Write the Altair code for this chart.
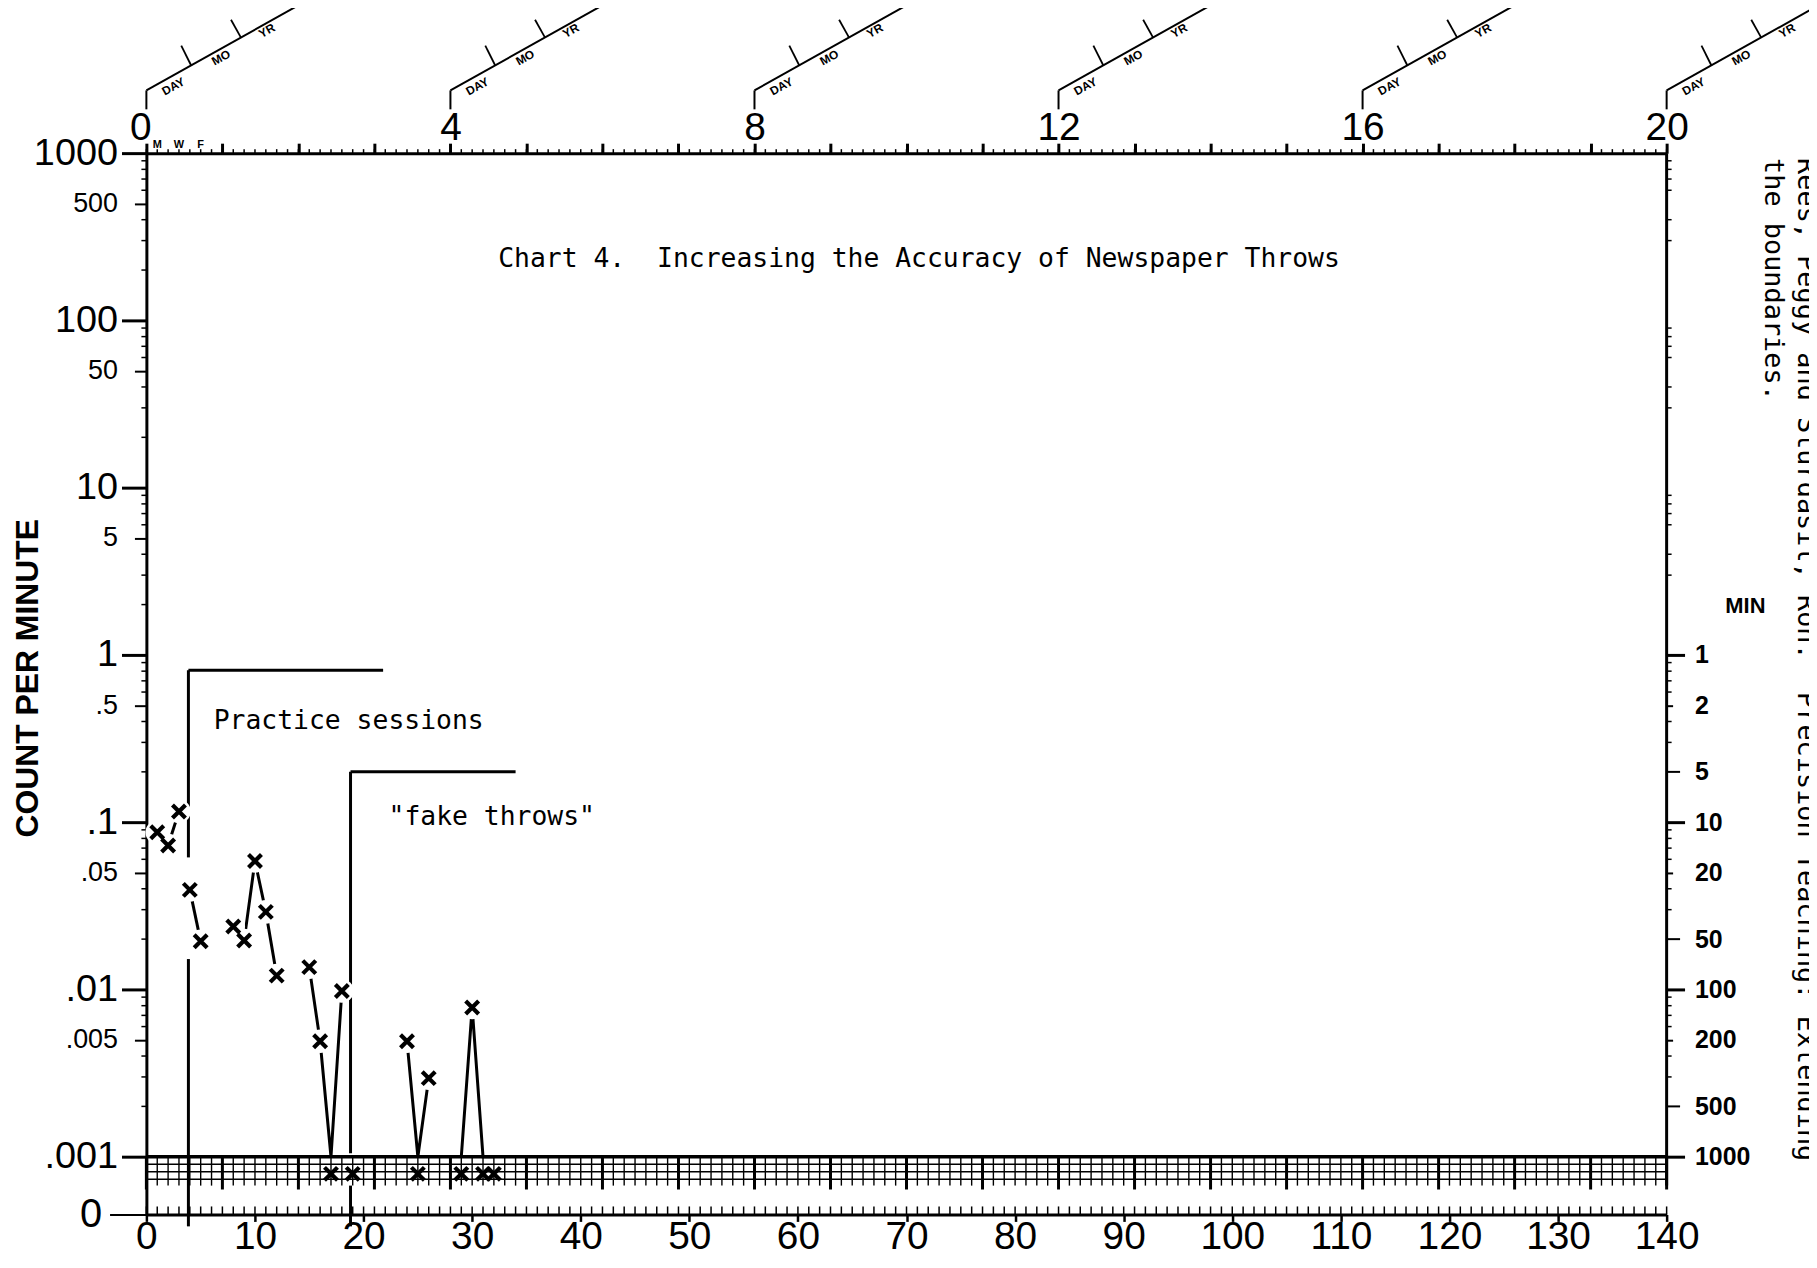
import json
import altair as alt
import pandas as pd

NB = "\u00a0"  # keeps the double spaces of the typewritten texts

# ---------------- data ----------------
days = [1, 2, 3, 4, 5, 8, 9, 10, 11, 12, 15, 16, 17, 18, 19, 24, 25, 26, 29, 30, 31, 32]
rates = [0.087, 0.0726, 0.116, 0.0394, 0.0194, 0.0238, 0.0196, 0.0586, 0.0291, 0.0121,
         0.0136, 0.0049, 0.0, 0.0098, 0.0, 0.0049, 0.0, 0.00295, 0.0, 0.0078, 0.0, 0.0]
runs = [1, 1, 1, 2, 2, 3, 3, 3, 3, 3, 4, 4, 4, 4, 5, 6, 6, 6, 7, 7, 7, 7]

FLOOR = 0.001          # the .001 line (record floor)
ZERO_MARK = 0.00079    # level at which zero counts are marked
ZERO_LINE = 0.000452   # the "0" line at the bottom
grid_rows = [0.000902, 0.000814, 0.000734]
GRID_BOTTOM = 0.000672
GRID_BOTTOM_WEEK = 0.000637

# phase change lines
phase_days = [3.87, 18.8]
phase_tops = [0.81, 0.2]
phase_ends = [21.8, 34.0]
phase_seg_day = [3.87, 3.87, 18.8, 18.8]
phase_seg_top = [0.81, 0.0152, 0.2, GRID_BOTTOM]
phase_seg_bot = [0.0616, ZERO_LINE, 0.00105, ZERO_LINE]

# annotations
note_text = ["Chart 4. " + NB + "Increasing the Accuracy of Newspaper Throws",
             "Practice sessions", '"fake throws"']
note_day = [32.4, 6.2, 22.3]
note_rate = [232.0, 0.404, 0.108]

citation = ["Rees, Peggy and Sturdasil, Ron. " + NB + "Precision Teaching: Extending",
            "the boundaries."]

# axes
left_values = [1000, 500, 100, 50, 10, 5, 1, 0.5, 0.1, 0.05, 0.01, 0.005, 0.001, ZERO_LINE]
left_labels = ["1000", "500", "100", "50", "10", "5", "1", ".5", ".1", ".05", ".01", ".005", ".001", "0"]
left_major = [1000, 100, 10, 1, 0.1, 0.01, 0.001]
left_minor = [m * 10.0 ** e for e in range(-3, 3) for m in (2, 3, 4, 6, 7, 8, 9)]

right_values = [1, 0.5, 0.2, 0.1, 0.05, 0.02, 0.01, 0.005, 0.002, 0.001]
right_labels = ["1", "2", "5", "10", "20", "50", "100", "200", "500", "1000"]
right_major = [1, 0.1, 0.01, 0.001]
right_mid = [0.2, 0.02, 0.002]
right_minor = [m * 10.0 ** e for e in range(-3, 3) for m in (3, 4, 6, 7, 8, 9)]

bottom_values = [0, 10, 20, 30, 40, 50, 60, 70, 80, 90, 100, 110, 120, 130, 140]
day_ticks = list(range(0, 141))
week_ticks = list(range(0, 141, 7))
week_days = [0, 28, 56, 84, 112, 140]
week_labels = ["0", "4", "8", "12", "16", "20"]
weekday_days = [1, 3, 5]
weekday_labels = ["M", "W", "F"]
date_line_labels = ["DAY", "MO", "YR"]

# ---------------- layout ----------------
W, H = 1527, 1066
PAD = {"left": 139, "top": 143, "right": 143, "bottom": 43}
MONO = "DejaVu Sans Mono"
SANS = "Liberation Sans"

xs = alt.Scale(domain=[0, 140], nice=False, zero=False)
ys = alt.Scale(type="log", domain=[ZERO_LINE, 1000], nice=False, zero=False)


def X(f, axis=None):
    return alt.X(f, type="quantitative", scale=xs, axis=axis)


def XD(v):
    return alt.XDatum(v, type="quantitative", scale=xs, axis=None)


def Y(f, axis=None):
    return alt.Y(f, type="quantitative", scale=ys, axis=axis)


def YD(v):
    return alt.YDatum(v, type="quantitative", scale=ys, axis=None)


J = json.dumps
left_major_test = f"indexof({J(left_major)}, datum.value) >= 0"
zero_test = f"datum.value < {FLOOR * 0.9}"
right_major_test = f"indexof({J(right_major)}, datum.value) >= 0"
right_mid_test = f"indexof({J(right_mid)}, datum.value) >= 0"

left_axis = alt.Axis(
    orient="left", values=left_values,
    labelExpr=f"{J(left_labels)}[indexof({J(left_values)}, datum.value)]",
    labelFontSize={"condition": [{"test": zero_test, "value": 40},
                                 {"test": left_major_test, "value": 38}], "value": 27},
    tickSize={"condition": [{"test": zero_test, "value": 37},
                            {"test": left_major_test, "value": 25}], "value": 12},
    labelPadding={"condition": [{"test": zero_test, "value": 8},
                                {"test": left_major_test, "value": 4}], "value": 17},
    tickWidth={"condition": [{"test": left_major_test, "value": 3}], "value": 2},
    domainWidth=3, labelOverlap=False, labelFlush=False, labelFont=SANS,
    title="COUNT PER MINUTE", titleFont=SANS, titleFontSize=32, titleFontWeight="bold",
    titleAngle=270, titleAlign="center", titleBaseline="middle", titleX=-119, titleY=527,
)

right_axis = alt.Axis(
    orient="right", values=right_values, domain=False,
    labelExpr=f"{J(right_labels)}[indexof({J(right_values)}, datum.value)]",
    tickSize={"condition": [{"test": right_major_test, "value": 18},
                            {"test": right_mid_test, "value": 13}], "value": 6},
    labelPadding={"condition": [{"test": right_major_test, "value": 10},
                                {"test": right_mid_test, "value": 15}], "value": 22},
    tickWidth={"condition": [{"test": right_major_test, "value": 3}], "value": 2},
    labelFontSize=25, labelFontWeight="bold", labelFont=SANS,
    labelOverlap=False, labelFlush=False, title=None,
)

top_axis = alt.Axis(
    orient="top", values=week_ticks,
    labelExpr=f"indexof({J(week_days)}, datum.value) >= 0 ? {J(week_labels)}[indexof({J(week_days)}, datum.value)] : ''",
    labelOffset={"condition": {"test": "datum.value == 0", "value": -6}, "value": 0},
    tickSize=10, tickWidth=3, domainWidth=3, labelFontSize=39, labelPadding=4,
    labelBaseline="alphabetic",
    labelFont=SANS, labelFlush=False, labelOverlap=False, title=None,
)

bottom_axis = alt.Axis(
    orient="bottom", values=bottom_values, format="d",
    tickSize=7, tickWidth=2.5, domainWidth=3, labelFontSize=39, labelPadding=27,
    labelBaseline="alphabetic",
    labelFont=SANS, labelFlush=False, labelOverlap=False, title=None,
)

L = []

# ---- floor grid ----
df_days = pd.DataFrame({"day": day_ticks})
df_weeks = pd.DataFrame({"day": week_ticks})
L.append(alt.Chart(df_days).mark_rule(color="black", strokeWidth=1.4).encode(
    x=X("day"), y=YD(FLOOR), y2=alt.Y2Datum(GRID_BOTTOM)))
L.append(alt.Chart(df_weeks).mark_rule(color="black", strokeWidth=3).encode(
    x=X("day"), y=YD(FLOOR), y2=alt.Y2Datum(GRID_BOTTOM_WEEK)))
L.append(alt.Chart(pd.DataFrame({"v": grid_rows})).mark_rule(color="black", strokeWidth=1.4).encode(
    x=XD(0), x2=alt.X2Datum(140), y=Y("v")))
# .001 line, carries the left axis
L.append(alt.Chart(pd.DataFrame({"v": [FLOOR]})).mark_rule(color="black", strokeWidth=3.5).encode(
    x=XD(0), x2=alt.X2Datum(140), y=Y("v", axis=left_axis)))

# ---- top axis (1000 line) with daily ticks ----
L.append(alt.Chart(df_days).mark_rule(color="black", strokeWidth=1.5, y2Offset=-4).encode(
    x=X("day", axis=top_axis), y=YD(1000), y2=alt.Y2Datum(1000)))
# ---- bottom axis (0 line) with daily ticks ----
L.append(alt.Chart(df_days).mark_rule(color="black", strokeWidth=1.5, y2Offset=-8).encode(
    x=X("day", axis=bottom_axis), y=YD(ZERO_LINE), y2=alt.Y2Datum(ZERO_LINE)))

# ---- right border, carries the right (MIN) axis ----
L.append(alt.Chart(pd.DataFrame({"top": [1000], "bot": [GRID_BOTTOM]})).mark_rule(
    color="black", strokeWidth=3).encode(x=XD(140), y=Y("top", axis=right_axis), y2="bot:Q"))

# minor log ticks
L.append(alt.Chart(pd.DataFrame({"v": left_minor})).mark_rule(color="black", strokeWidth=1.5, x2Offset=-5).encode(
    x=XD(0), x2=alt.X2Datum(0), y=Y("v")))
L.append(alt.Chart(pd.DataFrame({"v": right_minor})).mark_rule(color="black", strokeWidth=1.5, x2Offset=5).encode(
    x=XD(140), x2=alt.X2Datum(140), y=Y("v")))

# ---- phase change lines ----
L.append(alt.Chart(pd.DataFrame({"day": phase_seg_day, "top": phase_seg_top, "bot": phase_seg_bot}))
         .mark_rule(color="black", strokeWidth=3).encode(x=X("day"), y=Y("top"), y2="bot:Q"))
L.append(alt.Chart(pd.DataFrame({"day": phase_days, "end": phase_ends, "top": phase_tops}))
         .mark_rule(color="black", strokeWidth=3).encode(x=X("day"), x2="end:Q", y=Y("top")))
L.append(alt.Chart(pd.DataFrame({"day": phase_days})).mark_rule(color="black", strokeWidth=3, y2Offset=12)
         .encode(x=X("day"), y=YD(ZERO_LINE), y2=alt.Y2Datum(ZERO_LINE)))

# ---- data ----
df = pd.DataFrame({"day": days, "rate": rates, "run": runs})
df["line_y"] = df["rate"].where(df["rate"] > 0, FLOOR)
df["mark_y"] = df["rate"].where(df["rate"] > 0, ZERO_MARK)

L.append(alt.Chart(df).mark_line(color="black", strokeWidth=3).encode(
    x=X("day"), y=Y("line_y"), detail="run:N", order="day:Q"))
L.append(alt.Chart(df[df["rate"] > 0]).mark_point(
    shape="circle", filled=True, color="white", opacity=1, size=560).encode(
    x=X("day"), y=Y("rate")))
L.append(alt.Chart(df).mark_point(
    shape="M-1,-1L1,1M-1,1L1,-1", filled=False, color="black", opacity=1,
    strokeWidth=4.2, size=170).encode(x=X("day"), y=Y("mark_y")))

# ---- annotations ----
L.append(alt.Chart(pd.DataFrame({"day": note_day, "rate": note_rate, "text": note_text}))
         .mark_text(align="left", baseline="middle", font=MONO, fontSize=26.5, color="black")
         .encode(x=X("day"), y=Y("rate"), text="text:N"))

# ---- date-line decorations above every 4-week label ----
df_wk = pd.DataFrame({"day": week_days})
L.append(alt.Chart(df_wk).mark_rule(color="black", strokeWidth=2).encode(
    x=X("day"), y=alt.value(-44), y2=alt.value(-63)))
L.append(alt.Chart(df_wk).mark_rule(color="black", strokeWidth=2, x2Offset=150).encode(
    x=X("day"), x2="day:Q", y=alt.value(-63), y2=alt.value(-147)))
L.append(alt.Chart(df_wk).mark_rule(color="black", strokeWidth=1.8, xOffset=45, x2Offset=35).encode(
    x=X("day"), x2="day:Q", y=alt.value(-88), y2=alt.value(-108)))
L.append(alt.Chart(df_wk).mark_rule(color="black", strokeWidth=1.8, xOffset=95, x2Offset=85).encode(
    x=X("day"), x2="day:Q", y=alt.value(-116), y2=alt.value(-134)))
for lab, xo, yo in zip(date_line_labels, [27, 75, 121], [-67, -96, -123]):
    L.append(alt.Chart(df_wk).mark_text(
        angle=331, font=SANS, fontSize=12, fontWeight="bold", color="black", xOffset=xo).encode(
        x=X("day"), y=alt.value(yo), text=alt.value(lab)))

L.append(alt.Chart(pd.DataFrame({"day": weekday_days, "lab": weekday_labels})).mark_text(
    font=SANS, fontSize=11, fontWeight="bold", color="black", baseline="middle").encode(
    x=X("day"), y=alt.value(-8), text="lab:N"))

# ---- MIN header of the right axis ----
L.append(alt.Chart(pd.DataFrame({"t": ["MIN"]})).mark_text(
    align="left", baseline="middle", font=SANS, fontSize=22, fontWeight="bold", color="black",
    xOffset=59).encode(x=XD(140), y=YD(1.95), text="t:N"))

# ---- citation (rotated, the first line partly cut at the right edge as in the scan) ----
for line, xo in zip(citation, [140, 107]):
    L.append(alt.Chart(pd.DataFrame({"t": [line]})).mark_text(
        angle=90, align="left", baseline="middle", font=MONO, fontSize=27, color="black",
        xOffset=xo, yOffset=5).encode(x=XD(140), y=YD(1000), text="t:N"))

chart = (
    alt.layer(*L)
    .resolve_axis(x="independent", y="independent")
    .properties(width=W, height=H, autosize=alt.AutoSizeParams(type="none"),
                padding=PAD, background="white")
    .configure_view(stroke=None)
    .configure_axis(grid=False, domainColor="black", tickColor="black",
                    labelColor="black", titleColor="black")
)

chart.save("out.html", embed_options={"renderer": "svg", "actions": False})
